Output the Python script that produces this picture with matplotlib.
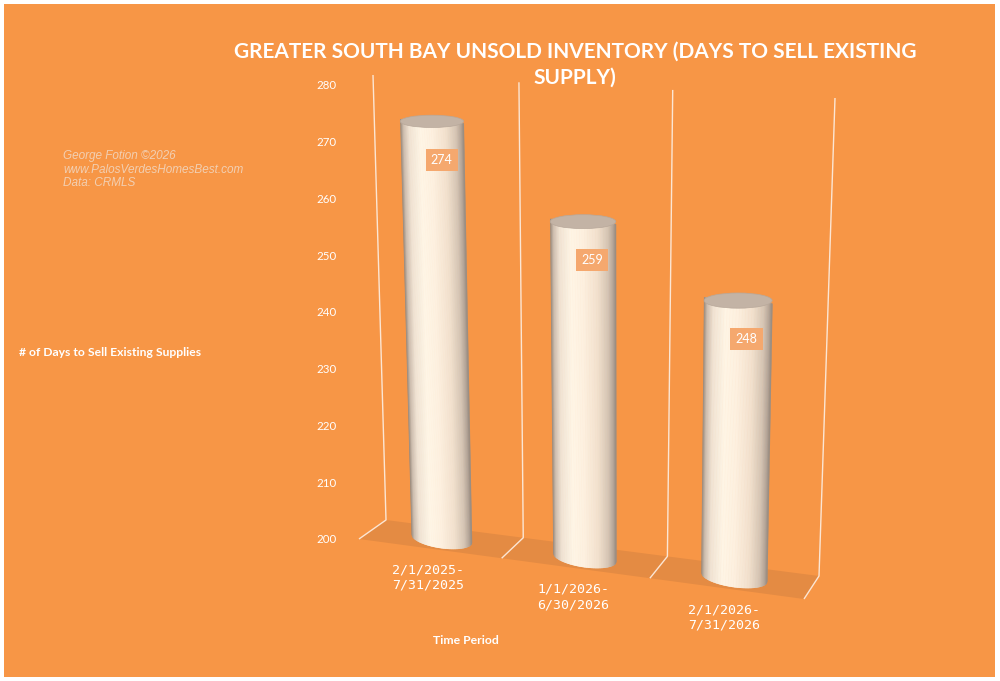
import numpy as np
import matplotlib
matplotlib.use("Agg")
import matplotlib.pyplot as plt
from matplotlib.patches import Rectangle, Polygon, Ellipse
from matplotlib.collections import PolyCollection
import matplotlib.transforms as mtransforms

# ---------------- data ----------------
categories = ["2/1/2025-\n7/31/2025", "1/1/2026-\n6/30/2026", "2/1/2026-\n7/31/2026"]
days_to_sell = [274, 259, 248]
y_ticks = [200, 210, 220, 230, 240, 250, 260, 270, 280]
title_lines = ["GREATER SOUTH BAY UNSOLD INVENTORY (DAYS TO SELL EXISTING", "SUPPLY)"]
credit_lines = ["George Fotion \u00a92026", "www.PalosVerdesHomesBest.com", "Data: CRMLS"]
y_label = "# of Days to Sell Existing Supplies"
x_label = "Time Period"

# ---------------- style ----------------
W, H = 1000, 681
ORANGE = "#F79646"
FLOOR = "#E48B43"
GRID = "#FCE6D4"
TOPCAP = "#C3B3A5"
LABELBOX = "#F5A86E"
SANS = ["Lato", "DejaVu Sans"]

fig = plt.figure(figsize=(W / 100, H / 100), dpi=100)
fig.patch.set_facecolor("white")
fig.patches.append(Rectangle((4 / W, (H - 677) / H), (995 - 4) / W, (677 - 4) / H,
                             transform=fig.transFigure, facecolor=ORANGE,
                             edgecolor="none", zorder=-10))

ax = fig.add_axes([359 / W, (H - 539) / H, (804 - 359) / W, (539 - 85) / H])
ax.set_xlim(0, len(categories))
ax.set_ylim(y_ticks[0], y_ticks[-1])
ax.patch.set_alpha(0)
for s in ax.spines.values():
    s.set_visible(False)
ax.set_xticks([])
ax.set_yticks(y_ticks)
ax.set_yticklabels([str(t) for t in y_ticks])
ax.tick_params(axis="y", length=0, pad=16, labelcolor="white", labelsize=8.3)
for lab in ax.get_yticklabels():
    lab.set_family(SANS)

# ---------------- simple perspective camera ----------------
inv = ax.transData.inverted()
def px2data(pts):
    return inv.transform(np.array([(x, H - y) for x, y in pts], float))

def fit_h(src, dst):
    A, b = [], []
    for (x, y), (u, v) in zip(src, dst):
        A.append([x, y, 1, 0, 0, 0, -u * x, -u * y]); b.append(u)
        A.append([0, 0, 0, x, y, 1, -v * x, -v * y]); b.append(v)
    h = np.linalg.solve(np.array(A, float), np.array(b, float))
    return np.append(h, 1.0).reshape(3, 3)

def apply_h(M, c, v):
    c = np.asarray(c, float); v = np.asarray(v, float)
    w = M[2, 0] * c + M[2, 1] * v + M[2, 2]
    return np.stack([(M[0, 0] * c + M[0, 1] * v + M[0, 2]) / w,
                     (M[1, 0] * c + M[1, 1] * v + M[1, 2]) / w], axis=-1)

n_cat = len(categories)
lo, hi = y_ticks[0], y_ticks[-1]
corners = [(0, lo), (n_cat, lo), (0, hi), (n_cat, hi)]
back_px = [(386, 520), (819, 576), (373, 75), (835, 98)]
mid_px = [(372.5, 529.5), (811.5, 587.5), (358, 81), (823, 110)]
HB = fit_h(corners, px2data(back_px))
HM = fit_h(corners, px2data(mid_px))

def proj(c, v, d):
    pm = apply_h(HM, c, v)
    pb = apply_h(HB, c, v)
    return pm + (d - 0.5) * 2 * (pb - pm)

sy = ax.transData.transform([(0, lo + 1)])[0][1] - ax.transData.transform([(0, lo)])[0][1]

def half_h_data(yd):
    ypx = H - ax.transData.transform([(0, yd)])[0][1]
    return (5.2 + 0.008 * ypx) / sy

# ---------------- floor and grid ----------------
cs = np.linspace(0, n_cat, 40)
front = proj(cs, np.full_like(cs, lo), 0.0)
back = proj(cs[::-1], np.full_like(cs, lo), 1.0)
ax.add_patch(Polygon(np.vstack([front, back]), closed=True, facecolor=FLOOR,
                     edgecolor="none", zorder=1, clip_on=False))
for k in range(n_cat + 1):
    p0 = proj(k, lo, 0.0); p1 = proj(k, lo, 1.0)
    vv = np.linspace(lo, hi, 20)
    wall = proj(np.full_like(vv, k), vv, 1.0)
    pts = np.vstack([p0[None], p1[None], wall])
    ax.plot(pts[:, 0], pts[:, 1], color=GRID, lw=1.0, zorder=2, clip_on=False,
            solid_capstyle="butt")

# ---------------- cylinders ----------------
stops_f = [0.0, 0.05, 0.14, 0.32, 0.5, 0.72, 0.88, 0.96, 1.0]
stops_c = np.array([[148, 134, 122], [205, 190, 176], [240, 228, 213], [255, 247, 232],
                    [254, 242, 226], [242, 226, 208], [214, 198, 182], [180, 166, 154],
                    [150, 138, 128]]) / 255.0
def shade(f):
    return np.array([np.interp(f, stops_f, stops_c[:, j]) for j in range(3)])

hw = 0.215
nstrip = 90
for i, (cat, val) in enumerate(zip(categories, days_to_sell)):
    c = i + 0.5
    fs = np.linspace(0, 1, nstrip + 1)
    cc = c - hw + 2 * hw * fs
    tops = proj(cc, np.full_like(cc, val), 0.5)
    bots = proj(cc, np.full_like(cc, lo), 0.5)
    hb = half_h_data(proj(c, lo, 0.5)[1])
    arc = hb * np.sqrt(np.clip(1 - (2 * fs - 1) ** 2, 0, 1))
    bots = bots.copy(); bots[:, 1] -= arc
    polys, cols = [], []
    for j in range(nstrip):
        polys.append([tops[j], tops[j + 1], bots[j + 1], bots[j]])
        cols.append(shade((fs[j] + fs[j + 1]) / 2))
    pc = PolyCollection(polys, facecolors=cols, edgecolors=cols, linewidths=0.4,
                        zorder=3 + i, clip_on=False)
    ax.add_collection(pc)
    ctr = proj(c, val, 0.5)
    wdt = tops[-1][0] - tops[0][0]
    ht = half_h_data(ctr[1])
    ax.add_patch(Ellipse(ctr, wdt, 2 * ht, facecolor=TOPCAP, edgecolor="#B8A89A",
                         lw=0.5, zorder=3.5 + i, clip_on=False))
    lp = proj(c, val - 6.5, 0.5)
    ax.text(lp[0], lp[1], str(val),
            transform=ax.transData + mtransforms.ScaledTranslation(9 / 100, 0, fig.dpi_scale_trans),
            ha="center", va="center", color="white", fontsize=9, family=SANS,
            bbox=dict(boxstyle="square,pad=0.42", facecolor=LABELBOX, edgecolor="none"),
            zorder=10, clip_on=False)
    tp = proj(c, lo, 0.0)
    ax.text(tp[0], tp[1], cat,
            transform=ax.transData + mtransforms.ScaledTranslation(-2 / 100, -29 / 100, fig.dpi_scale_trans),
            ha="center", va="center", ma="center", color="white", fontsize=9.5,
            family=["DejaVu Sans Mono"], linespacing=1.25, zorder=10, clip_on=False)

# ---------------- texts ----------------
for k, line in enumerate(title_lines):
    fig.text(575 / W, 1 - (52 + 26 * k) / H, line, ha="center", va="center",
             color="white", fontsize=15, fontweight="bold", family=SANS)
for k, line in enumerate(credit_lines):
    fig.text(63 / W, 1 - (156 + 13.5 * k) / H, line, ha="left", va="center",
             color="#F2CFB2", fontsize=8.5, style="italic",
             family=["Liberation Sans", "DejaVu Sans"])
ax.set_ylabel(y_label, rotation=0, color="white", fontsize=8.7, fontweight="bold",
              family=SANS, ha="center", va="center")
ax.yaxis.set_label_coords(110 / W, 1 - 353 / H, transform=fig.transFigure)
ax.set_xlabel(x_label, color="white", fontsize=8.8, fontweight="bold", family=SANS,
              ha="center", va="center")
ax.xaxis.set_label_coords(466 / W, 1 - 641 / H, transform=fig.transFigure)

fig.savefig("out.png", dpi=100, facecolor=fig.get_facecolor())
